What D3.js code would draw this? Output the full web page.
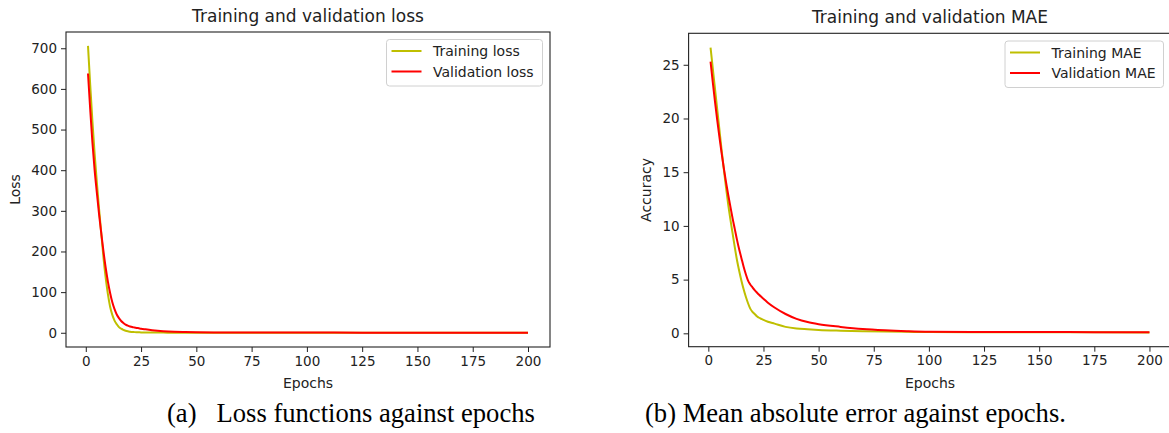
<!DOCTYPE html>
<html>
<head>
<meta charset="utf-8">
<script src="https://cdn.jsdelivr.net/npm/d3@7"></script>
<style>
  body { margin: 0; background: #fff; }
  svg { display: block; }
</style>
</head>
<body>
<svg id="chart" width="1169" height="433"></svg>
<script>
const epochs = [1,2,3,4,5,6,7,8,9,10,11,12,13,14,15,16,17,18,19,20,21,22,23,24,25,
	27,30,35,40,45,50,60,70,80,90,100,125,150,175,200]

const trainLoss = [706,610,520,440,370,305,245,185,135,95,64,44,30,21,14,10,7,5,3.6,2.7,2.0,1.6,1.3,1.1,0.9,
	0.7,0.5,0.4,0.3,0.25,0.2,0.18,0.16,0.15,0.14,0.12,0.11,0.1,0.1,0.1]
const valLoss = [638,550,468,400,345,292,245,200,160,126,98,75,58,45,36,29,24,20,17.5,15.5,14,13,12,11,10,
	8.5,6.5,4,2.5,1.8,1.3,0.9,0.7,0.6,0.5,0.4,0.35,0.3,0.28,0.25]

const trainMae = [26.6,24.7,22.8,20.9,19.0,17.1,15.3,13.6,12.0,10.6,9.3,8.0,6.8,5.8,4.9,4.1,3.4,2.8,2.3,2.0,1.8,1.6,1.45,1.35,1.25,
	1.08,0.9,0.6,0.45,0.38,0.32,0.25,0.2,0.16,0.14,0.12,0.1,0.09,0.09,0.08]
const valMae = [25.3,23.4,21.6,19.9,18.3,16.8,15.4,14.1,12.9,11.8,10.7,9.7,8.7,7.8,7.0,6.2,5.5,4.9,4.55,4.28,4.03,3.8,3.59,3.4,3.22,
	2.85,2.4,1.8,1.35,1.05,0.85,0.6,0.4,0.28,0.2,0.15,0.13,0.12,0.11,0.1]

const xTicks = [0,25,50,75,100,125,150,175,200]
const lossTicks = [0,100,200,300,400,500,600,700]
const maeTicks = [0,5,10,15,20,25]

const svg = d3.select('#chart')
const sans = 'DejaVu Sans, sans-serif'
const serif = 'Liberation Serif, Times New Roman, serif'

function drawChart(o){
	const {left, right, top, bottom} = o.box

	const x = d3.scaleLinear().domain([-8.95, 209.95]).range([left, right])
	const y = d3.scaleLinear().domain(o.yDomain).range([bottom, top])

	const g = svg.append('g')

	// axes
	const xAxis = g.append('g')
		.attr('transform', 'translate(0,' + bottom + ')')
		.call(d3.axisBottom(x).tickValues(xTicks).tickSize(5).tickPadding(4).tickFormat(d3.format('d')))
	const yAxis = g.append('g')
		.attr('transform', 'translate(' + left + ',0)')
		.call(d3.axisLeft(y).tickValues(o.yTicks).tickSize(5).tickPadding(4).tickFormat(d3.format('d')))

	;[xAxis, yAxis].forEach(a => {
		a.attr('font-family', sans).attr('font-size', '13.5px')
		a.select('.domain').remove()
		a.selectAll('line').attr('stroke', '#222')
		a.selectAll('text').attr('fill', '#222')
	})

	// lines
	const line = d3.line()
		.x((d, i) => x(epochs[i]))
		.y(d => y(d))
		.curve(d3.curveMonotoneX)

	g.append('path')
		.datum(o.train)
		.attr('fill', 'none')
		.attr('stroke', '#bfbf00')
		.attr('stroke-width', 2)
		.attr('d', line)

	g.append('path')
		.datum(o.val)
		.attr('fill', 'none')
		.attr('stroke', '#ff0000')
		.attr('stroke-width', 2)
		.attr('d', line)

	// frame
	g.append('rect')
		.attr('x', left).attr('y', top)
		.attr('width', right - left).attr('height', bottom - top)
		.attr('fill', 'none')
		.attr('stroke', '#222')
		.attr('stroke-width', 1.1)

	// title and labels
	g.append('text')
		.attr('x', (left + right) / 2).attr('y', top - 10)
		.attr('text-anchor', 'middle')
		.attr('font-family', sans).attr('font-size', '17px').attr('fill', '#222')
		.text(o.title)

	g.append('text')
		.attr('x', (left + right) / 2).attr('y', bottom + 41)
		.attr('text-anchor', 'middle')
		.attr('font-family', sans).attr('font-size', '14px').attr('fill', '#222')
		.text('Epochs')

	g.append('text')
		.attr('transform', 'translate(' + o.yLabelX + ',' + (top + bottom) / 2 + ') rotate(-90)')
		.attr('text-anchor', 'middle')
		.attr('font-family', sans).attr('font-size', '14px').attr('fill', '#222')
		.text(o.yLabel)

	// legend
	const lg = g.append('g').attr('transform', 'translate(' + o.legend[0] + ',' + o.legend[1] + ')')
	lg.append('rect')
		.attr('width', o.legend[2]).attr('height', 46.5)
		.attr('rx', 3)
		.attr('fill', '#fff').attr('fill-opacity', 0.8)
		.attr('stroke', '#d0d0d0')
	o.names.forEach((name, i) => {
		lg.append('line')
			.attr('x1', 5).attr('x2', 35)
			.attr('y1', 11.5 + i * 20.5).attr('y2', 11.5 + i * 20.5)
			.attr('stroke', i === 0 ? '#bfbf00' : '#ff0000')
			.attr('stroke-width', 2)
		lg.append('text')
			.attr('x', 46.5).attr('y', 16.5 + i * 20.5)
			.attr('font-family', sans).attr('font-size', '14px').attr('fill', '#222')
			.text(name)
	})
}

drawChart({
	box: {left: 66, right: 550, top: 32, bottom: 347},
	yDomain: [-35, 740],
	yTicks: lossTicks,
	train: trainLoss, val: valLoss,
	title: 'Training and validation loss',
	yLabel: 'Loss', yLabelX: 20,
	legend: [386.5, 39.5, 156],
	names: ['Training loss', 'Validation loss']
})

drawChart({
	box: {left: 688.6, right: 1171.4, top: 33.3, bottom: 346.7},
	yDomain: [-1.245, 27.93],
	yTicks: maeTicks,
	train: trainMae, val: valMae,
	title: 'Training and validation MAE',
	yLabel: 'Accuracy', yLabelX: 651,
	legend: [1005, 41, 158.5],
	names: ['Training MAE', 'Validation MAE']
})

// captions under the panels
svg.append('text')
	.attr('y', 422)
	.attr('font-family', serif).attr('font-size', '26.6px').attr('fill', '#000')
	.call(t => {
		t.append('tspan').attr('x', 167).text('(a)')
		t.append('tspan').attr('x', 216.5).text('Loss functions against epochs')
	})

svg.append('text')
	.attr('x', 645).attr('y', 422)
	.attr('font-family', serif).attr('font-size', '26.6px').attr('fill', '#000')
	.text('(b) Mean absolute error against epochs.')
</script>
</body>
</html>
